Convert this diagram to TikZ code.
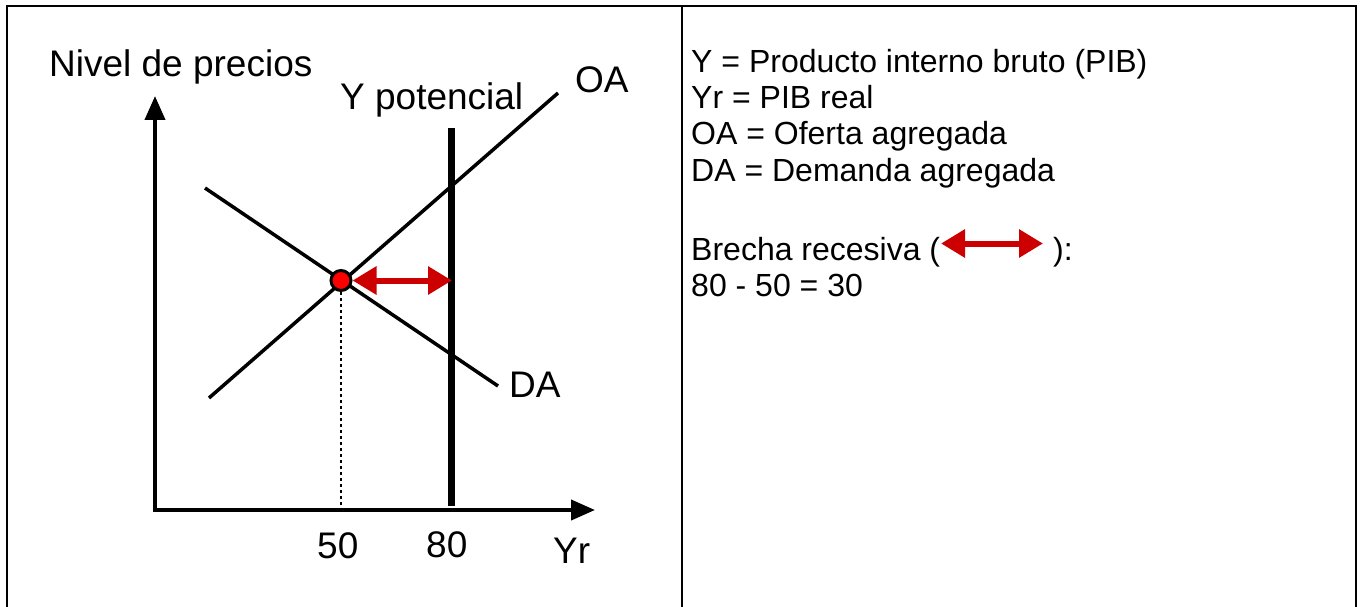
\documentclass[tikz,border=0pt]{standalone}
\usepackage{fontspec}
\setmainfont{Liberation Sans}
\usetikzlibrary{arrows.meta}
\definecolor{gapred}{RGB}{204,0,0}
\definecolor{dotred}{RGB}{255,0,0}
\begin{document}
\begin{tikzpicture}[x=1pt,y=-1pt,
  lbl/.style={anchor=base west,inner sep=0pt,font=\fontsize{37}{44}\selectfont},
  leg/.style={anchor=base west,inner sep=0pt,font=\fontsize{32}{36}\selectfont},
  frame/.style={line width=2pt},
  axis/.style={line width=4pt,-{Triangle[length=24pt,width=20pt]}},
  curve/.style={line width=3.5pt},
  potline/.style={line width=7pt},
  guide/.style={line width=2pt,dash pattern=on 3pt off 3pt},
  gap/.style={gapred,line width=6pt,{Triangle[length=24pt,width=27pt]}-{Triangle[length=24pt,width=27pt]}},
  eqpt/.style={circle,fill=dotred,draw=black,line width=3pt,minimum size=20pt,inner sep=0pt},
]
\useasboundingbox (0,0) rectangle (1362,607);
% frame
\coordinate (fbl) at (7,607);
\coordinate (ftl) at (7,6);
\coordinate (ftr) at (1356,6);
\coordinate (fbr) at (1356,607);
\coordinate (dtop) at (682,6);
\coordinate (dbot) at (682,607);
\draw[frame] (fbl) -- (ftl) -- (ftr) -- (fbr);
\draw[frame] (dtop) -- (dbot);
% axes
\coordinate (yb) at (155,508);
\coordinate (yt) at (155,96);
\coordinate (xl) at (153,510);
\coordinate (xr) at (595,510);
\draw[axis] (yb) -- (yt);
\draw[axis] (xl) -- (xr);
% potential output line
\coordinate (pt) at (451.5,128);
\coordinate (pb) at (451.5,506);
\draw[potline] (pt) -- (pb);
% curves
\coordinate (oa1) at (209,398);
\coordinate (oa2) at (558,93);
\coordinate (da1) at (205,188);
\coordinate (da2) at (498,386);
\draw[curve] (oa1) -- (oa2);
\draw[curve] (da1) -- (da2);
% equilibrium
\node[eqpt] (eq) at (341,280.5) {};
\coordinate (eqb) at (341,508);
\draw[guide] (eq.south) -- (eqb);
\coordinate (gapend) at (452,280.5);
\draw[gap] (eq.east) -- (gapend);
% labels
\node[lbl] (nivel) at (49,77) {Nivel de precios};
\node[lbl] (ypot) at (340,110) {Y potencial};
\node[lbl] (oalbl) at (575,93) {OA};
\node[lbl] (dalbl) at (509,397) {DA};
\node[lbl] (l50) at (317,558) {50};
\node[lbl] (l80) at (426,557) {80};
\node[lbl] (yr) at (553,563) {Yr};
% legend
\node[leg] (lg1) at (691,73) {Y = Producto interno bruto (PIB)};
\node[leg] (lg2) at (691,109) {Yr = PIB real};
\node[leg] (lg3) at (691,145) {OA = Oferta agregada};
\node[leg] (lg4) at (691,181) {DA = Demanda agregada};
\node[leg] (brecha) at (691,260) {Brecha recesiva (};
\node[leg] (brclose) at (1053,260) {):};
\node[leg] (calc) at (691,296) {80 - 50 = 30};
\coordinate (gl) at (941,243.5);
\coordinate (gr) at (1043,243.5);
\draw[gap] (gl) -- (gr);
\end{tikzpicture}
\end{document}
